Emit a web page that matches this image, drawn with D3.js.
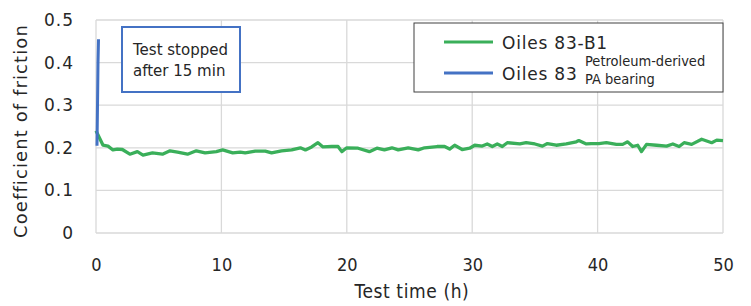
<!DOCTYPE html>
<html>
<head>
<meta charset="utf-8">
<script src="https://cdn.jsdelivr.net/npm/d3@7"></script>
<style>
  body { margin: 0; background: #fff; }
  text { font-family: "DejaVu Sans", Verdana, sans-serif; fill: #262626; }
  .cond { font-family: "DejaVu Sans Condensed", "DejaVu Sans", sans-serif; font-stretch: condensed; }
</style>
</head>
<body>
<script>
// Test time (h) and coefficient of friction
var greenTime = [0, 0.56, 0.96, 1.35, 1.7, 2.1, 2.7, 3.3, 3.75, 4.5, 5.3, 5.9, 6.5, 7.3, 8.0, 8.7, 9.6, 10.1, 10.9, 11.5, 11.9,
  12.7, 13.5, 14.0, 14.8, 15.6, 16.3, 16.7, 17.2, 17.7, 18.1, 18.8, 19.3, 19.6, 20.0, 20.9, 21.8, 22.4, 23.0, 23.6, 24.1, 24.9, 25.7,
  26.2, 27.2, 27.8, 28.2, 28.6, 29.2, 29.8, 30.2, 30.8, 31.2, 31.6, 32.0, 32.4, 32.8, 33.8, 34.3, 35.0, 35.6, 36.0, 36.7, 37.5, 38.3,
  38.5, 39.1, 39.5, 40.1, 40.7, 41.5, 42.0, 42.4, 42.8, 43.2, 43.5, 43.9, 44.7, 45.5, 46.0, 46.5, 46.9, 47.5, 48.3, 48.7, 49.1, 49.5, 50];
var greenCof = [0.240, 0.206, 0.204, 0.195, 0.197, 0.196, 0.185, 0.191, 0.183, 0.188, 0.185, 0.193, 0.190, 0.185, 0.193, 0.188, 0.191, 0.195, 0.188, 0.190, 0.188,
  0.192, 0.192, 0.188, 0.193, 0.195, 0.200, 0.195, 0.202, 0.212, 0.202, 0.203, 0.203, 0.191, 0.200, 0.199, 0.191, 0.199, 0.195, 0.200, 0.195, 0.200, 0.195,
  0.200, 0.203, 0.203, 0.197, 0.206, 0.196, 0.199, 0.206, 0.204, 0.209, 0.203, 0.209, 0.203, 0.212, 0.209, 0.212, 0.209, 0.204, 0.210, 0.206, 0.209, 0.214,
  0.217, 0.209, 0.210, 0.210, 0.212, 0.208, 0.208, 0.214, 0.203, 0.206, 0.191, 0.208, 0.206, 0.204, 0.209, 0.203, 0.212, 0.208, 0.220, 0.216, 0.212, 0.218, 0.217];

var blueTime = [0.08, 0.12, 0.16, 0.2];
var blueCof = [0.205, 0.30, 0.40, 0.455];

var xTicks = [0, 10, 20, 30, 40, 50];
var yTicks = [0, 0.1, 0.2, 0.3, 0.4, 0.5];

var seriesNames = ['Oiles 83-B1', 'Oiles 83'];
var seriesColors = ['#3aaf5a', '#4472c4'];

window.onload = function(){
    var width = 751, height = 306;
    var svg = d3.select('body').append('svg')
        .attr('width', width)
        .attr('height', height);

    var x = d3.scaleLinear().domain([0, 50]).range([96, 723]);
    var y = d3.scaleLinear().domain([0, 0.5]).range([233, 20]);

    // gridlines
    svg.append('g').selectAll('line.h')
        .data(yTicks).enter().append('line')
        .attr('x1', x(0)).attr('x2', x(50))
        .attr('y1', function(d){ return y(d); })
        .attr('y2', function(d){ return y(d); })
        .style('stroke', '#d9d9d9').style('stroke-width', 1.3);
    svg.append('g').selectAll('line.v')
        .data(xTicks).enter().append('line')
        .attr('y1', y(0)).attr('y2', y(0.5))
        .attr('x1', function(d){ return x(d); })
        .attr('x2', function(d){ return x(d); })
        .style('stroke', '#d9d9d9').style('stroke-width', 1.3);

    // axes (labels only)
    var yAxis = svg.append('g')
        .attr('transform', 'translate(' + x(0) + ',0)')
        .call(d3.axisLeft(y).tickValues(yTicks).tickSize(0).tickPadding(22)
            .tickFormat(function(d){ return d === 0 ? '0' : d3.format('.1f')(d); }));
    yAxis.select('.domain').remove();
    yAxis.selectAll('text').style('font-size', '17px').style('letter-spacing', '1px')
        .style('font-family', '"DejaVu Sans", sans-serif').style('fill', '#262626');

    var xAxis = svg.append('g')
        .attr('transform', 'translate(0,' + y(0) + ')')
        .call(d3.axisBottom(x).tickValues(xTicks).tickSize(0).tickPadding(25));
    xAxis.select('.domain').remove();
    xAxis.selectAll('text').attr('class', 'cond').style('font-size', '18px')
        .style('font-family', '"DejaVu Sans Condensed", "DejaVu Sans", sans-serif').style('fill', '#262626');

    // axis titles
    svg.append('text')
        .attr('class', 'cond')
        .attr('x', 412).attr('y', 298)
        .attr('text-anchor', 'middle')
        .style('font-size', '19px')
        .style('letter-spacing', '0.6px')
        .text('Test time (h)');

    svg.append('text')
        .attr('transform', 'translate(27,' + 131 + ') rotate(-90)')
        .attr('text-anchor', 'middle')
        .style('font-size', '18px')
        .style('letter-spacing', '1.1px')
        .text('Coefficient of friction');

    // lines
    var line = d3.line()
        .x(function(d){ return x(d[0]); })
        .y(function(d){ return y(d[1]); });

    svg.append('path')
        .datum(d3.zip(greenTime, greenCof))
        .attr('d', line)
        .style('fill', 'none')
        .style('stroke', seriesColors[0])
        .style('stroke-width', 3.3)
        .style('stroke-linejoin', 'round');

    svg.append('path')
        .datum(d3.zip(blueTime, blueCof))
        .attr('d', line)
        .style('fill', 'none')
        .style('stroke', seriesColors[1])
        .style('stroke-width', 3);

    // annotation box
    svg.append('rect')
        .attr('x', 122).attr('y', 27).attr('width', 118).attr('height', 65)
        .style('fill', '#fff').style('stroke', '#4472c4').style('stroke-width', 2);
    var note = svg.append('text').style('font-size', '15px');
    note.append('tspan').attr('x', 133).attr('y', 55).text('Test stopped');
    note.append('tspan').attr('x', 133).attr('y', 76).text('after 15 min');

    // legend
    svg.append('rect')
        .attr('x', 414).attr('y', 23).attr('width', 309).attr('height', 69)
        .style('fill', '#fff').style('stroke', '#404040').style('stroke-width', 1);

    var legend = svg.selectAll('.legend')
        .data(seriesNames).enter().append('g')
        .attr('class', 'legend')
        .attr('transform', function(d, i){ return 'translate(0,' + (42 + i * 31) + ')'; });
    legend.append('line')
        .attr('x1', 444).attr('x2', 493)
        .style('stroke', function(d, i){ return seriesColors[i]; })
        .style('stroke-width', 3);
    legend.append('text')
        .attr('x', 502).attr('y', 7)
        .style('font-size', '17px')
        .style('letter-spacing', '0.8px')
        .text(function(d){ return d; });

    var sub = svg.append('text').attr('class', 'cond').style('font-size', '14.5px');
    sub.append('tspan').attr('x', 585).attr('y', 66).text('Petroleum-derived');
    sub.append('tspan').attr('x', 585).attr('y', 84).text('PA bearing');
};
</script>
</body>
</html>
